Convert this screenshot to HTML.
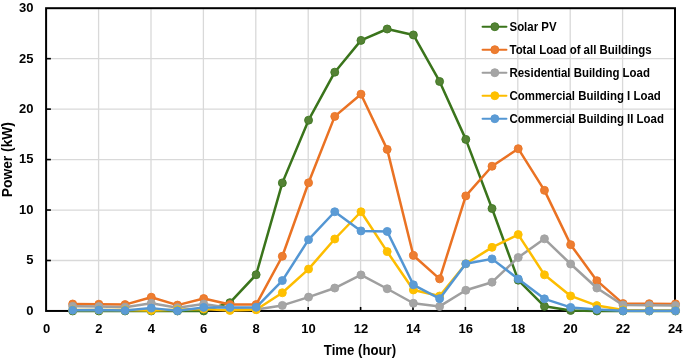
<!DOCTYPE html>
<html><head><meta charset="utf-8"><style>
html,body{margin:0;padding:0;background:#fff;}
body{width:685px;height:362px;overflow:hidden;}
svg{display:block;will-change:transform;}
text{font-family:"Liberation Sans",sans-serif;font-weight:bold;fill:#000;}
</style></head><body>
<svg width="685" height="362" viewBox="0 0 685 362">
<rect x="0" y="0" width="685" height="362" fill="#fff"/>
<g stroke="#d9d9d9" stroke-width="1.3"><line x1="47.10" y1="260.49" x2="674.00" y2="260.49"/><line x1="47.10" y1="210.03" x2="674.00" y2="210.03"/><line x1="47.10" y1="159.57" x2="674.00" y2="159.57"/><line x1="47.10" y1="109.12" x2="674.00" y2="109.12"/><line x1="47.10" y1="58.66" x2="674.00" y2="58.66"/><line x1="98.60" y1="9.20" x2="98.60" y2="309.95"/><line x1="151.00" y1="9.20" x2="151.00" y2="309.95"/><line x1="203.40" y1="9.20" x2="203.40" y2="309.95"/><line x1="255.80" y1="9.20" x2="255.80" y2="309.95"/><line x1="308.20" y1="9.20" x2="308.20" y2="309.95"/><line x1="360.60" y1="9.20" x2="360.60" y2="309.95"/><line x1="413.00" y1="9.20" x2="413.00" y2="309.95"/><line x1="465.40" y1="9.20" x2="465.40" y2="309.95"/><line x1="517.80" y1="9.20" x2="517.80" y2="309.95"/><line x1="570.20" y1="9.20" x2="570.20" y2="309.95"/><line x1="622.60" y1="9.20" x2="622.60" y2="309.95"/></g>
<rect x="46.1" y="8.2" width="628.9" height="302.75" fill="none" stroke="#000" stroke-width="2"/>
<g stroke="#000" stroke-width="1.6"><line x1="46.1" y1="260.49" x2="50.90" y2="260.49"/><line x1="46.1" y1="210.03" x2="50.90" y2="210.03"/><line x1="46.1" y1="159.57" x2="50.90" y2="159.57"/><line x1="46.1" y1="109.12" x2="50.90" y2="109.12"/><line x1="46.1" y1="58.66" x2="50.90" y2="58.66"/><line x1="98.60" y1="310.95" x2="98.60" y2="306.95"/><line x1="151.00" y1="310.95" x2="151.00" y2="306.95"/><line x1="203.40" y1="310.95" x2="203.40" y2="306.95"/><line x1="255.80" y1="310.95" x2="255.80" y2="306.95"/><line x1="308.20" y1="310.95" x2="308.20" y2="306.95"/><line x1="360.60" y1="310.95" x2="360.60" y2="306.95"/><line x1="413.00" y1="310.95" x2="413.00" y2="306.95"/><line x1="465.40" y1="310.95" x2="465.40" y2="306.95"/><line x1="517.80" y1="310.95" x2="517.80" y2="306.95"/><line x1="570.20" y1="310.95" x2="570.20" y2="306.95"/><line x1="622.60" y1="310.95" x2="622.60" y2="306.95"/></g>
<polyline points="72.66,310.95 98.87,310.95 125.08,310.95 151.29,310.95 177.50,310.95 203.71,310.95 229.92,302.67 256.13,274.72 282.34,182.89 308.55,120.22 334.76,72.18 360.97,40.39 387.18,28.99 413.39,34.94 439.60,81.47 465.81,139.39 492.02,208.52 518.23,280.17 544.44,306.31 570.65,310.45 596.86,310.95 623.07,310.95 649.28,310.95 675.49,310.95" fill="none" stroke="#3a741b" stroke-width="2.5" stroke-linejoin="round" stroke-linecap="round"/>
<g fill="#548235" stroke="#3f7822" stroke-width="0.9"><circle cx="72.66" cy="310.95" r="4.0"/><circle cx="98.87" cy="310.95" r="4.0"/><circle cx="125.08" cy="310.95" r="4.0"/><circle cx="151.29" cy="310.95" r="4.0"/><circle cx="177.50" cy="310.95" r="4.0"/><circle cx="203.71" cy="310.95" r="4.0"/><circle cx="229.92" cy="302.67" r="4.0"/><circle cx="256.13" cy="274.72" r="4.0"/><circle cx="282.34" cy="182.89" r="4.0"/><circle cx="308.55" cy="120.22" r="4.0"/><circle cx="334.76" cy="72.18" r="4.0"/><circle cx="360.97" cy="40.39" r="4.0"/><circle cx="387.18" cy="28.99" r="4.0"/><circle cx="413.39" cy="34.94" r="4.0"/><circle cx="439.60" cy="81.47" r="4.0"/><circle cx="465.81" cy="139.39" r="4.0"/><circle cx="492.02" cy="208.52" r="4.0"/><circle cx="518.23" cy="280.17" r="4.0"/><circle cx="544.44" cy="306.31" r="4.0"/><circle cx="570.65" cy="310.45" r="4.0"/><circle cx="596.86" cy="310.95" r="4.0"/><circle cx="623.07" cy="310.95" r="4.0"/><circle cx="649.28" cy="310.95" r="4.0"/><circle cx="675.49" cy="310.95" r="4.0"/></g>
<polyline points="72.66,303.99 98.87,304.19 125.08,304.59 151.29,297.23 177.50,305.10 203.71,298.54 229.92,304.59 256.13,304.59 282.34,256.25 308.55,182.79 334.76,116.38 360.97,94.18 387.18,149.38 413.39,255.45 439.60,278.86 465.81,195.90 492.02,166.24 518.23,148.68 544.44,190.35 570.65,244.65 596.86,280.68 623.07,303.58 649.28,303.68 675.49,303.89" fill="none" stroke="#ea7223" stroke-width="2.5" stroke-linejoin="round" stroke-linecap="round"/>
<g fill="#ed7d31" stroke="#ea7526" stroke-width="0.9"><circle cx="72.66" cy="303.99" r="4.0"/><circle cx="98.87" cy="304.19" r="4.0"/><circle cx="125.08" cy="304.59" r="4.0"/><circle cx="151.29" cy="297.23" r="4.0"/><circle cx="177.50" cy="305.10" r="4.0"/><circle cx="203.71" cy="298.54" r="4.0"/><circle cx="229.92" cy="304.59" r="4.0"/><circle cx="256.13" cy="304.59" r="4.0"/><circle cx="282.34" cy="256.25" r="4.0"/><circle cx="308.55" cy="182.79" r="4.0"/><circle cx="334.76" cy="116.38" r="4.0"/><circle cx="360.97" cy="94.18" r="4.0"/><circle cx="387.18" cy="149.38" r="4.0"/><circle cx="413.39" cy="255.45" r="4.0"/><circle cx="439.60" cy="278.86" r="4.0"/><circle cx="465.81" cy="195.90" r="4.0"/><circle cx="492.02" cy="166.24" r="4.0"/><circle cx="518.23" cy="148.68" r="4.0"/><circle cx="544.44" cy="190.35" r="4.0"/><circle cx="570.65" cy="244.65" r="4.0"/><circle cx="596.86" cy="280.68" r="4.0"/><circle cx="623.07" cy="303.58" r="4.0"/><circle cx="649.28" cy="303.68" r="4.0"/><circle cx="675.49" cy="303.89" r="4.0"/></g>
<polyline points="72.66,306.31 98.87,306.61 125.08,307.22 151.29,303.28 177.50,307.72 203.71,303.99 229.92,307.92 256.13,309.44 282.34,305.40 308.55,297.12 334.76,288.04 360.97,274.92 387.18,288.75 413.39,303.28 439.60,306.41 465.81,290.26 492.02,282.19 518.23,257.46 544.44,238.79 570.65,264.02 596.86,288.04 623.07,305.10 649.28,305.30 675.49,305.60" fill="none" stroke="#9f9f9f" stroke-width="2.5" stroke-linejoin="round" stroke-linecap="round"/>
<g fill="#a5a5a5" stroke="#a2a2a2" stroke-width="0.9"><circle cx="72.66" cy="306.31" r="4.0"/><circle cx="98.87" cy="306.61" r="4.0"/><circle cx="125.08" cy="307.22" r="4.0"/><circle cx="151.29" cy="303.28" r="4.0"/><circle cx="177.50" cy="307.72" r="4.0"/><circle cx="203.71" cy="303.99" r="4.0"/><circle cx="229.92" cy="307.92" r="4.0"/><circle cx="256.13" cy="309.44" r="4.0"/><circle cx="282.34" cy="305.40" r="4.0"/><circle cx="308.55" cy="297.12" r="4.0"/><circle cx="334.76" cy="288.04" r="4.0"/><circle cx="360.97" cy="274.92" r="4.0"/><circle cx="387.18" cy="288.75" r="4.0"/><circle cx="413.39" cy="303.28" r="4.0"/><circle cx="439.60" cy="306.41" r="4.0"/><circle cx="465.81" cy="290.26" r="4.0"/><circle cx="492.02" cy="282.19" r="4.0"/><circle cx="518.23" cy="257.46" r="4.0"/><circle cx="544.44" cy="238.79" r="4.0"/><circle cx="570.65" cy="264.02" r="4.0"/><circle cx="596.86" cy="288.04" r="4.0"/><circle cx="623.07" cy="305.10" r="4.0"/><circle cx="649.28" cy="305.30" r="4.0"/><circle cx="675.49" cy="305.60" r="4.0"/></g>
<polyline points="72.66,309.94 98.87,309.94 125.08,309.94 151.29,310.45 177.50,309.74 203.71,308.93 229.92,310.45 256.13,309.74 282.34,292.78 308.55,269.07 334.76,239.00 360.97,211.75 387.18,251.61 413.39,289.96 439.60,296.01 465.81,263.72 492.02,247.37 518.23,234.56 544.44,274.82 570.65,295.91 596.86,305.60 623.07,309.94 649.28,310.45 675.49,310.45" fill="none" stroke="#fdbd00" stroke-width="2.5" stroke-linejoin="round" stroke-linecap="round"/>
<g fill="#ffc000" stroke="#fdbf00" stroke-width="0.9"><circle cx="72.66" cy="309.94" r="4.0"/><circle cx="98.87" cy="309.94" r="4.0"/><circle cx="125.08" cy="309.94" r="4.0"/><circle cx="151.29" cy="310.45" r="4.0"/><circle cx="177.50" cy="309.74" r="4.0"/><circle cx="203.71" cy="308.93" r="4.0"/><circle cx="229.92" cy="310.45" r="4.0"/><circle cx="256.13" cy="309.74" r="4.0"/><circle cx="282.34" cy="292.78" r="4.0"/><circle cx="308.55" cy="269.07" r="4.0"/><circle cx="334.76" cy="239.00" r="4.0"/><circle cx="360.97" cy="211.75" r="4.0"/><circle cx="387.18" cy="251.61" r="4.0"/><circle cx="413.39" cy="289.96" r="4.0"/><circle cx="439.60" cy="296.01" r="4.0"/><circle cx="465.81" cy="263.72" r="4.0"/><circle cx="492.02" cy="247.37" r="4.0"/><circle cx="518.23" cy="234.56" r="4.0"/><circle cx="544.44" cy="274.82" r="4.0"/><circle cx="570.65" cy="295.91" r="4.0"/><circle cx="596.86" cy="305.60" r="4.0"/><circle cx="623.07" cy="309.94" r="4.0"/><circle cx="649.28" cy="310.45" r="4.0"/><circle cx="675.49" cy="310.45" r="4.0"/></g>
<polyline points="72.66,310.14 98.87,309.94 125.08,310.45 151.29,308.12 177.50,310.75 203.71,307.42 229.92,307.62 256.13,307.32 282.34,280.57 308.55,239.70 334.76,211.75 360.97,230.92 387.18,231.43 413.39,284.81 439.60,298.64 465.81,263.82 492.02,258.88 518.23,278.96 544.44,298.84 570.65,307.42 596.86,309.44 623.07,310.75 649.28,310.75 675.49,310.65" fill="none" stroke="#5396d3" stroke-width="2.5" stroke-linejoin="round" stroke-linecap="round"/>
<g fill="#5b9bd5" stroke="#5898d4" stroke-width="0.9"><circle cx="72.66" cy="310.14" r="4.0"/><circle cx="98.87" cy="309.94" r="4.0"/><circle cx="125.08" cy="310.45" r="4.0"/><circle cx="151.29" cy="308.12" r="4.0"/><circle cx="177.50" cy="310.75" r="4.0"/><circle cx="203.71" cy="307.42" r="4.0"/><circle cx="229.92" cy="307.62" r="4.0"/><circle cx="256.13" cy="307.32" r="4.0"/><circle cx="282.34" cy="280.57" r="4.0"/><circle cx="308.55" cy="239.70" r="4.0"/><circle cx="334.76" cy="211.75" r="4.0"/><circle cx="360.97" cy="230.92" r="4.0"/><circle cx="387.18" cy="231.43" r="4.0"/><circle cx="413.39" cy="284.81" r="4.0"/><circle cx="439.60" cy="298.64" r="4.0"/><circle cx="465.81" cy="263.82" r="4.0"/><circle cx="492.02" cy="258.88" r="4.0"/><circle cx="518.23" cy="278.96" r="4.0"/><circle cx="544.44" cy="298.84" r="4.0"/><circle cx="570.65" cy="307.42" r="4.0"/><circle cx="596.86" cy="309.44" r="4.0"/><circle cx="623.07" cy="310.75" r="4.0"/><circle cx="649.28" cy="310.75" r="4.0"/><circle cx="675.49" cy="310.65" r="4.0"/></g>
<g font-size="13"><text x="33.5" y="314.85" text-anchor="end">0</text><text x="33.5" y="264.39" text-anchor="end">5</text><text x="33.5" y="213.93" text-anchor="end">10</text><text x="33.5" y="163.47" text-anchor="end">15</text><text x="33.5" y="113.02" text-anchor="end">20</text><text x="33.5" y="62.56" text-anchor="end">25</text><text x="33.5" y="12.10" text-anchor="end">30</text></g>
<g font-size="13"><text x="46.50" y="333.4" text-anchor="middle">0</text><text x="98.90" y="333.4" text-anchor="middle">2</text><text x="151.30" y="333.4" text-anchor="middle">4</text><text x="203.70" y="333.4" text-anchor="middle">6</text><text x="256.10" y="333.4" text-anchor="middle">8</text><text x="308.50" y="333.4" text-anchor="middle">10</text><text x="360.90" y="333.4" text-anchor="middle">12</text><text x="413.30" y="333.4" text-anchor="middle">14</text><text x="465.70" y="333.4" text-anchor="middle">16</text><text x="518.10" y="333.4" text-anchor="middle">18</text><text x="570.50" y="333.4" text-anchor="middle">20</text><text x="622.90" y="333.4" text-anchor="middle">22</text><text x="675.30" y="333.4" text-anchor="middle">24</text></g>
<text transform="translate(360,354.9) scale(1,1.1)" x="0" y="0" font-size="13.2" text-anchor="middle">Time (hour)</text>
<text transform="translate(11.5,159.6) rotate(-90)" x="0" y="0" font-size="13.8" text-anchor="middle">Power (kW)</text>
<line x1="482.6" y1="26.7" x2="506.4" y2="26.7" stroke="#3a741b" stroke-width="2.1" stroke-linecap="round"/><circle cx="494.8" cy="26.7" r="4.0" fill="#548235" stroke="#3f7822" stroke-width="0.9"/><text transform="translate(509.5,30.50) scale(1,1.07)" font-size="11.45">Solar PV</text>
<line x1="482.6" y1="49.7" x2="506.4" y2="49.7" stroke="#ea7223" stroke-width="2.1" stroke-linecap="round"/><circle cx="494.8" cy="49.7" r="4.0" fill="#ed7d31" stroke="#ea7526" stroke-width="0.9"/><text transform="translate(509.5,53.50) scale(1,1.07)" font-size="11.45">Total Load of all Buildings</text>
<line x1="482.6" y1="72.7" x2="506.4" y2="72.7" stroke="#9f9f9f" stroke-width="2.1" stroke-linecap="round"/><circle cx="494.8" cy="72.7" r="4.0" fill="#a5a5a5" stroke="#a2a2a2" stroke-width="0.9"/><text transform="translate(509.5,76.50) scale(1,1.07)" font-size="11.45">Residential Building Load</text>
<line x1="482.6" y1="95.7" x2="506.4" y2="95.7" stroke="#fdbd00" stroke-width="2.1" stroke-linecap="round"/><circle cx="494.8" cy="95.7" r="4.0" fill="#ffc000" stroke="#fdbf00" stroke-width="0.9"/><text transform="translate(509.5,99.50) scale(1,1.07)" font-size="11.45">Commercial Building I Load</text>
<line x1="482.6" y1="118.7" x2="506.4" y2="118.7" stroke="#5396d3" stroke-width="2.1" stroke-linecap="round"/><circle cx="494.8" cy="118.7" r="4.0" fill="#5b9bd5" stroke="#5898d4" stroke-width="0.9"/><text transform="translate(509.5,122.50) scale(1,1.07)" font-size="11.45">Commercial Building II Load</text>
</svg>
</body></html>
